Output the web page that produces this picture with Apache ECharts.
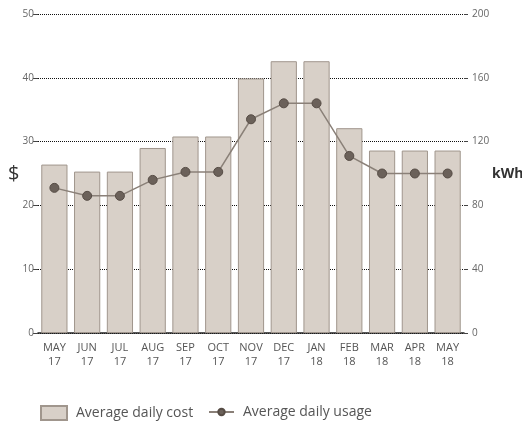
<!DOCTYPE html>
<html>
<head>
<meta charset="utf-8">
<script src="https://cdn.jsdelivr.net/npm/echarts@6/dist/echarts.min.js"></script>
<style>
html,body{margin:0;padding:0;background:#fff;}
#chart{width:522px;height:423px;}
</style>
</head>
<body>
<div id="chart"></div>
<script>
var categories = ['MAY\n17','JUN\n17','JUL\n17','AUG\n17','SEP\n17','OCT\n17','NOV\n17','DEC\n17','JAN\n18','FEB\n18','MAR\n18','APR\n18','MAY\n18'];
var costValues = [26.4, 25.3, 25.3, 29.0, 30.8, 30.8, 39.9, 42.6, 42.6, 32.1, 28.6, 28.6, 28.6];
var usageValues = [91, 86, 86, 96, 101, 101, 134, 144, 144, 111, 100, 100, 100];
var costTicks = [0, 10, 20, 30, 40, 50];
var usageTicks = [0, 40, 80, 120, 160, 200];

var chart = echarts.init(document.getElementById('chart'), null, {renderer:'canvas'});
var font = '"Open Sans", "Noto Sans", sans-serif';
var legendText = {fontSize: 14, color: '#555', fontFamily: font, padding: [0,0,0,4]};
chart.setOption({
  animation: false,
  textStyle: {fontFamily: font},
  grid: {left: 38, right: 58, top: 14, bottom: 90, containLabel: false},
  legend: [
    {
      left: 40, top: 405, padding: 0,
      itemWidth: 26, itemHeight: 14,
      icon: 'rect',
      textStyle: legendText,
      data: ['Average daily cost']
    },
    {
      left: 208, top: 405, padding: 0,
      itemWidth: 25, itemHeight: 8,
      textStyle: legendText,
      data: ['Average daily usage']
    }
  ],
  xAxis: {
    type: 'category',
    data: categories,
    axisLine: {lineStyle: {color: '#222', width: 1.5}},
    axisTick: {show: false},
    axisLabel: {fontSize: 11, color: '#555', lineHeight: 14, margin: 8, interval: 0}
  },
  yAxis: [
    {
      type: 'value', min: costTicks[0], max: costTicks[costTicks.length-1], interval: 10,
      axisLine: {show: false},
      axisTick: {show: true, length: 5, lineStyle: {color: '#444'}},
      axisLabel: {fontSize: 10, color: '#666', margin: 4},
      splitLine: {show: true, lineStyle: {color: '#111', type: [1, 1], width: 1}}
    },
    {
      type: 'value', min: usageTicks[0], max: usageTicks[usageTicks.length-1], interval: 40,
      position: 'right',
      axisLine: {show: false},
      axisTick: {show: true, length: 4, lineStyle: {color: '#444'}},
      axisLabel: {fontSize: 10, color: '#666', margin: 8},
      splitLine: {show: false}
    }
  ],
  graphic: [
    {type: 'text', left: 8, top: 164, style: {text: '$', fontSize: 20, fill: '#333', fontFamily: font}},
    {type: 'text', left: 492, top: 167, style: {text: 'kWh', fontSize: 14, fontWeight: 'bold', fill: '#333', fontFamily: font}}
  ],
  series: [
    {
      name: 'Average daily cost',
      type: 'bar',
      yAxisIndex: 0,
      data: costValues,
      barCategoryGap: '20%',
      itemStyle: {color: '#d8d0c8', borderColor: '#a0968d', borderWidth: 1},
      z: 2
    },
    {
      name: 'Average daily usage',
      type: 'line',
      yAxisIndex: 1,
      data: usageValues,
      symbol: 'circle',
      symbolSize: 9,
      lineStyle: {color: '#8a8078', width: 1.5},
      itemStyle: {color: '#6b615a', borderColor: '#564c45', borderWidth: 1},
      z: 3
    }
  ]
});
</script>
</body>
</html>
